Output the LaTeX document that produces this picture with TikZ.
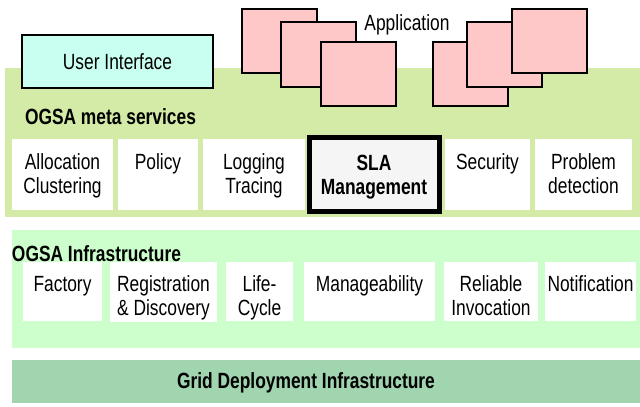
\documentclass[tikz,border=0pt]{standalone}
\usepackage{fontspec}
\setmainfont[FakeStretch=0.79]{Liberation Sans}
\definecolor{metagreen}{RGB}{211,235,166}
\definecolor{infragreen}{RGB}{204,255,204}
\definecolor{gridgreen}{RGB}{160,213,176}
\definecolor{uicyan}{RGB}{200,255,240}
\definecolor{apppink}{RGB}{255,200,200}
\definecolor{slagray}{RGB}{245,245,245}
\newcommand\bx[6]{\node[#6, anchor=north west, minimum width={(#4-#2)*1pt}, minimum height={(#5-#3)*1pt}] (#1) at (#2,#3) {};}
\begin{document}
\begin{tikzpicture}[x=1pt,y=-1pt,
  every node/.style={inner sep=0pt, outer sep=0pt, font=\fontsize{22}{24}\selectfont},
  band/.style={fill=#1, draw=none},
  wbox/.style={fill=white, draw=none},
  uibox/.style={fill=uicyan, draw=black, line width=1.5pt},
  appbox/.style={fill=apppink, draw=black, line width=2pt},
  slabox/.style={fill=slagray, draw=black, line width=5pt},
  lbl/.style={anchor=north, align=center},
  hdr/.style={font=\fontsize{22}{24}\selectfont\bfseries}
]
\useasboundingbox (0,0) rectangle (640,407);
\fill[white] (0,0) rectangle (640,407);
% bands
\bx{meta}{5}{68}{640}{217}{band=metagreen}
\bx{infra}{12}{230}{640}{348}{band=infragreen}
\bx{grid}{12}{360}{640}{403}{band=gridgreen}
% user interface
\bx{ui}{22}{35}{213}{88}{uibox}
\node (uit) at (ui.center) {User Interface};
% application boxes
\bx{a1}{242}{9}{317}{73}{appbox}
\bx{a2}{281}{22}{356}{87}{appbox}
\bx{a3}{321}{42}{396}{106}{appbox}
\bx{b1}{433}{42}{508}{106}{appbox}
\bx{b2}{467}{22}{542}{87}{appbox}
\bx{b3}{512}{9}{587}{73}{appbox}
\node[anchor=base] (apptxt) at (407,30) {Application};
% meta services
\node[hdr, anchor=base west] (metahdr) at (25,124) {OGSA meta services};
\bx{alloc}{12}{139}{113}{210}{wbox}
\bx{policy}{118}{139}{198}{210}{wbox}
\bx{logging}{203}{139}{305}{210}{wbox}
\bx{sla}{309}{137}{439}{211}{slabox}
\bx{security}{445}{139}{530}{210}{wbox}
\bx{problem}{535}{139}{632}{210}{wbox}
\node[lbl] (talloc) at ([yshift=-15pt]alloc.north) {Allocation\\Clustering};
\node[lbl] (tpolicy) at ([yshift=-15pt]policy.north) {Policy};
\node[lbl] (tlogging) at ([yshift=-15pt]logging.north) {Logging\\Tracing};
\node[lbl, hdr] (tsla) at ([yshift=-18pt]sla.north) {SLA\\Management};
\node[lbl] (tsecurity) at ([yshift=-15pt]security.north) {Security};
\node[lbl] (tproblem) at ([yshift=-15pt]problem.north) {Problem\\detection};
% infrastructure
\node[hdr, anchor=base west] (infrahdr) at (12,261) {OGSA Infrastructure};
\bx{factory}{23}{262}{102}{321}{wbox}
\bx{regis}{110}{262}{217}{322}{wbox}
\bx{life}{226}{262}{293}{321}{wbox}
\bx{manage}{304}{262}{435}{321}{wbox}
\bx{reliable}{444}{262}{538}{321}{wbox}
\bx{notif}{545}{262}{636}{321}{wbox}
\node[lbl] (tfactory) at ([yshift=-14pt]factory.north) {Factory};
\node[lbl] (tregis) at ([yshift=-14pt]regis.north) {Registration\\\&~Discovery};
\node[lbl] (tlife) at ([yshift=-14pt]life.north) {Life-\\Cycle};
\node[lbl] (tmanage) at ([yshift=-14pt]manage.north) {Manageability};
\node[lbl] (treliable) at ([yshift=-14pt]reliable.north) {Reliable\\Invocation};
\node[lbl] (tnotif) at ([yshift=-14pt]notif.north) {Notification};
% grid
\node[hdr, anchor=base] (gridtxt) at (306,388.5) {Grid Deployment Infrastructure};
\end{tikzpicture}
\end{document}
